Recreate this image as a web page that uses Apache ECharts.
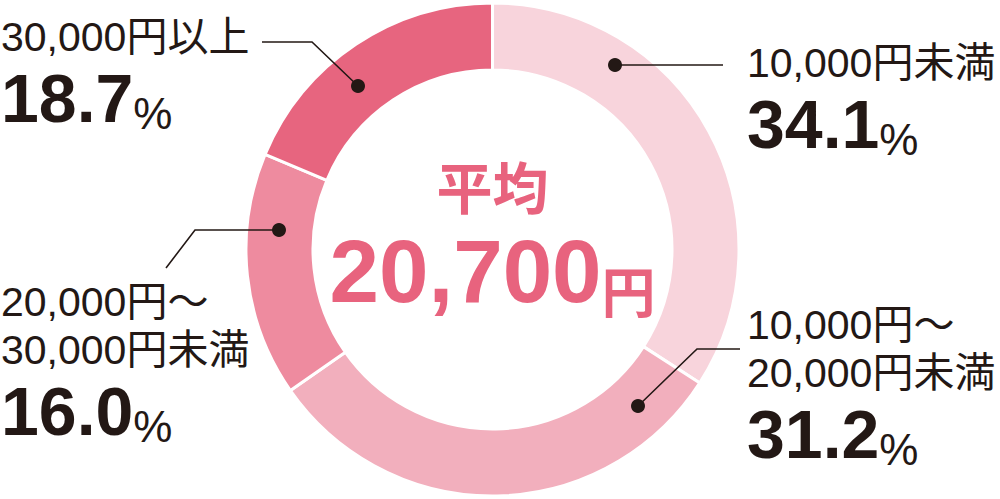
<!DOCTYPE html>
<html>
<head>
<meta charset="utf-8">
<script src="https://cdn.jsdelivr.net/npm/echarts@6/dist/echarts.min.js"></script>
<style>
html,body{margin:0;padding:0;background:#fff;}
#chart{width:1000px;height:499px;}
</style>
</head>
<body>
<div id="chart"></div>
<script>
// ---- data ----
const categories = ['10,000円未満', '10,000円～20,000円未満', '20,000円～30,000円未満', '30,000円以上'];
const shares = [34.1, 31.2, 16.0, 18.7];
const averageLabel = '平均';
const averageYen = 20700;
const unit = '円';

// ---- styles ----
const FONT = '"Liberation Sans", "Noto Sans CJK JP", sans-serif';
const INK = '#231815';
const sliceColors = ['#f8d4dc', '#f2afbd', '#ee8b9f', '#e7657f'];
const accent = '#e8637e';

// annotation layout: label block top-left and leader line (first point = dot)
const annot = [
  { x: 747, y: 39,  line: [[615, 65], [670, 65], [723, 65]] },
  { x: 747, y: 301, line: [[638, 406], [697, 349], [740, 349]] },
  { x: 1,   y: 278, line: [[279, 230], [195, 230], [166, 268]] },
  { x: 1,   y: 13,  line: [[358, 86], [312, 42], [262, 42]] }
];

function nameLines(n) {
  const i = n.indexOf('～');
  if (i >= 0 && i < n.length - 1) return [n.slice(0, i + 1), n.slice(i + 1)];
  return [n];
}

const chart = echarts.init(document.getElementById('chart'), null, { renderer: 'svg' });

chart.setOption({
  animation: false,
  backgroundColor: '#fff',
  series: [{
    type: 'pie',
    center: [492.5, 249.5],
    radius: [179.5, 246.5],
    startAngle: 90,
    clockwise: true,
    avoidLabelOverlap: false,
    emphasis: { disabled: true },
    itemStyle: { borderColor: '#fff', borderWidth: 3 },
    data: categories.map((c, i) => ({
      name: c, value: shares[i],
      itemStyle: { color: sliceColors[i] }
    })),
    label: {
      show: true,
      position: 'outside',
      fontFamily: FONT,
      color: INK,
      formatter: function (p) {
        const lines = nameLines(p.name).map(s => '{name|' + s + '}');
        return lines.join('\n') + '\n{pct|' + shares[p.dataIndex].toFixed(1) + '}{pc|%}';
      },
      rich: {
        name: { fontFamily: FONT, fontSize: 41, lineHeight: 48, color: INK },
        pct: { fontFamily: FONT, fontSize: 68, fontWeight: 'bold', lineHeight: 74, color: INK },
        pc: { fontFamily: FONT, fontSize: 44, lineHeight: 57, verticalAlign: 'bottom', color: INK }
      }
    },
    labelLine: { show: false },
    labelLayout: function (params) {
      const a = annot[params.dataIndex];
      return { x: a.x, y: a.y, align: 'left', verticalAlign: 'top' };
    }
  }],
  graphic: [
    ...annot.map(a => ({
      type: 'polyline', silent: true, z: 90,
      shape: { points: a.line },
      style: { stroke: INK, lineWidth: 1.6, fill: null }
    })),
    ...annot.map(a => ({
      type: 'circle', silent: true, z: 100,
      shape: { cx: a.line[0][0], cy: a.line[0][1], r: 7 },
      style: { fill: INK }
    })),
    {
      type: 'text', silent: true, z: 100,
      x: 492.5, y: 189,
      style: {
        text: averageLabel,
        align: 'center', verticalAlign: 'middle',
        font: 'bold 56px ' + FONT,
        fill: accent
      }
    },
    {
      type: 'text', silent: true, z: 100,
      x: 492.5, y: 221,
      style: {
        text: '{b|' + averageYen.toLocaleString('en-US') + '}{c|' + unit + '}',
        align: 'center', verticalAlign: 'top',
        rich: {
          b: { fontFamily: FONT, fontSize: 89, fontWeight: 'bold', lineHeight: 100, fill: accent },
          c: { fontFamily: FONT, fontSize: 54, fontWeight: 'bold', lineHeight: 69, verticalAlign: 'bottom', fill: accent }
        }
      }
    }
  ]
});
</script>
</body>
</html>
